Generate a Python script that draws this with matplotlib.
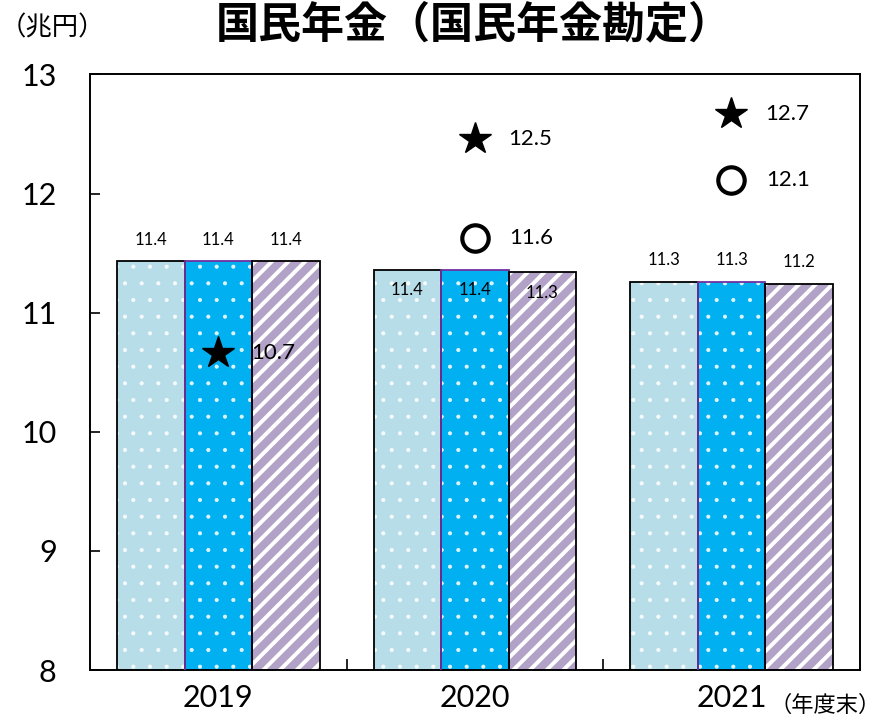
import numpy as np
import matplotlib
matplotlib.use('Agg')
import matplotlib.pyplot as plt

plt.rcParams['font.family'] = ['Lato', 'Noto Sans CJK JP', 'DejaVu Sans']

# date
years = ['2019', '2020', '2021']
bar_a = [11.43, 11.36, 11.26]
bar_b = [11.43, 11.36, 11.26]
bar_c = [11.43, 11.34, 11.24]
star_vals = [10.66, 12.46, 12.67]
circle_vals = [np.nan, 11.63, 12.11]
label_inside = [False, True, False]

fig = plt.figure(figsize=(8.93, 7.21), dpi=100)
ax = fig.add_axes([0.1008, 0.0707, 0.862, 0.826])

x = np.arange(len(years))
w = 0.263

series = [
    (bar_a, -w, '#B7DDE8', (1, 1, 1, 0.85), '.', 'black', 0.5),
    (bar_b, 0.0, '#00B0F0', (1, 1, 1, 0.85), '.', '#7030A0', 0.5),
    (bar_c, w, '#B3A2C7', 'white', '//', 'black', 2.8),
]

for vals, off, fc, hc, hatch, ec, hlw in series:
    bars = ax.bar(x + off, vals, width=w, color=fc, edgecolor=hc,
                  hatch=hatch, linewidth=0, zorder=2)
    for b in bars:
        try:
            b.set_hatch_linewidth(hlw)
        except AttributeError:
            pass
    ax.bar(x + off, vals, width=w, fill=False, edgecolor=ec,
           linewidth=1.3, zorder=3)
    for i, v in enumerate(vals):
        if label_inside[i]:
            ax.annotate(f'{v:.1f}', (x[i] + off, v), xytext=(0, -9),
                        textcoords='offset points', ha='center', va='top',
                        fontsize=12, zorder=5)
        else:
            ax.annotate(f'{v:.1f}', (x[i] + off, v), xytext=(0, 10),
                        textcoords='offset points', ha='center', va='bottom',
                        fontsize=12, zorder=5)

ax.plot(x, star_vals, linestyle='none', marker='*', markersize=24,
        color='black', zorder=6)
ax.plot(x, circle_vals, linestyle='none', marker='o', markersize=19,
        markerfacecolor='white', markeredgecolor='black',
        markeredgewidth=3, zorder=6)
for i in range(len(years)):
    ax.annotate(f'{star_vals[i]:.1f}', (x[i], star_vals[i]), xytext=(24, 0),
                textcoords='offset points', ha='left', va='center',
                fontsize=16, zorder=7)
    if not np.isnan(circle_vals[i]):
        ax.annotate(f'{circle_vals[i]:.1f}', (x[i], circle_vals[i]),
                    xytext=(25, 0), textcoords='offset points', ha='left',
                    va='center', fontsize=16, zorder=7)

ax.set_xlim(-0.5, 2.5)
ax.set_ylim(8, 13)
ax.set_yticks([8, 9, 10, 11, 12, 13])
ax.set_xticks(x)
ax.set_xticklabels(years)
ax.set_xticks([0.5, 1.5], minor=True)
ax.tick_params(axis='y', direction='in', length=7, width=1.2, labelsize=22, pad=24)
ax.tick_params(axis='x', which='major', length=0, labelsize=22, pad=10)
ax.tick_params(axis='x', which='minor', direction='in', length=8, width=1.2)
for s in ax.spines.values():
    s.set_linewidth(1.4)

fig.text(0.53, 0.966, '国民年金（国民年金勘定）', ha='center', va='center',
         fontsize=31, fontweight='bold', family='Noto Sans CJK JP')
fig.text(0.0, 0.961, '（兆円）', ha='left', va='center', fontsize=19,
         family='Noto Sans CJK JP')
fig.text(0.862, 0.022, '（年度末）', ha='left', va='center', fontsize=16,
         family='Noto Sans CJK JP')

fig.savefig('out.png', dpi=100)
